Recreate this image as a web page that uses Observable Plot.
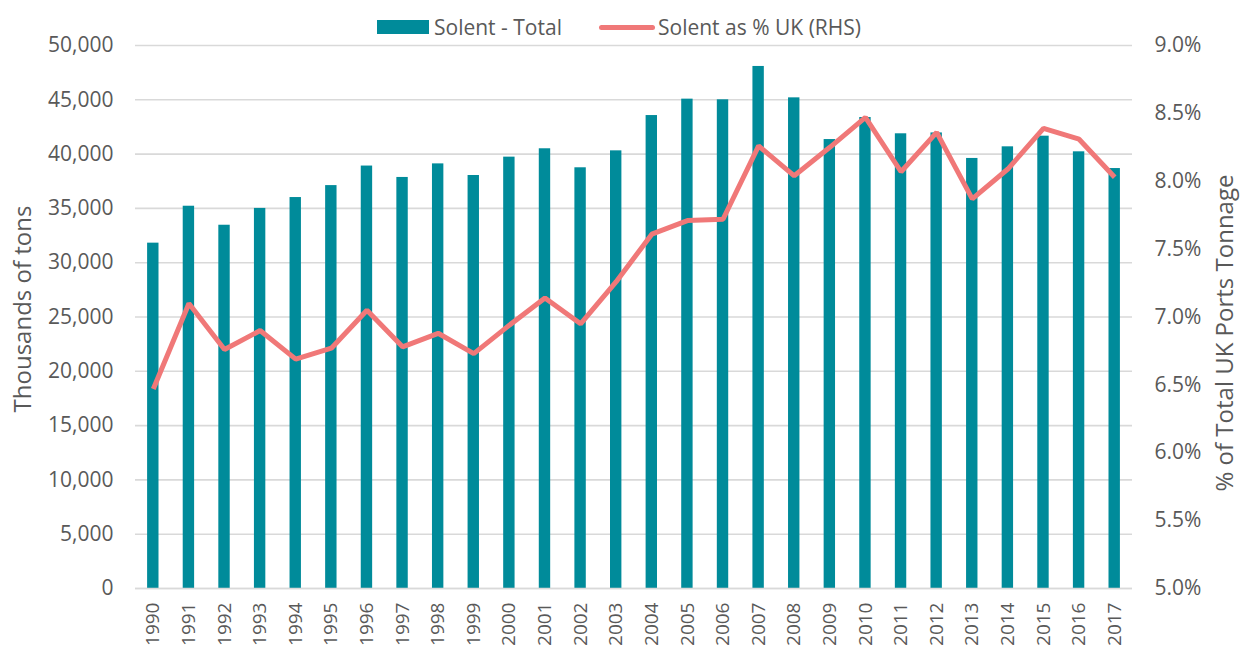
<!DOCTYPE html>
<html>
<head>
<meta charset="utf-8">
<script src="https://cdn.jsdelivr.net/npm/d3@7"></script>
<script src="https://cdn.jsdelivr.net/npm/@observablehq/plot@0.6"></script>
<style>
  body { margin: 0; background: #fff; font-family: "Open Sans", sans-serif; color: #595959; }
  #legend { position: relative; height: 38px; width: 1240px; }
  .item { position: absolute; top: 14px; font-size: 21px; line-height: 26px; display: flex; align-items: center; }
  .sw-bar { display: inline-block; width: 52px; height: 14px; background: #008b9a; margin-right: 5px; }
  .sw-line { display: inline-block; width: 56px; height: 5px; background: #f07878; border-radius: 3px; margin-right: 3px; }
</style>
</head>
<body>
<div id="legend">
  <div class="item" style="left:377px"><span class="sw-bar"></span>Solent - Total</div>
  <div class="item" style="left:599px"><span class="sw-line"></span>Solent as % UK (RHS)</div>
</div>
<div id="chart"></div>
<script>
const years = ["1990","1991","1992","1993","1994","1995","1996","1997","1998","1999","2000","2001","2002","2003","2004","2005","2006","2007","2008","2009","2010","2011","2012","2013","2014","2015","2016","2017"];
const solentTotal = [31800,35200,33450,35000,36000,37100,38900,37850,39100,38030,39720,40490,38740,40300,43550,45060,45000,48070,45180,41340,43370,41870,41950,39600,40670,41650,40210,38670];
const solentPctUK = [6.47,7.10,6.76,6.90,6.69,6.77,7.05,6.78,6.88,6.73,6.94,7.14,6.95,7.26,7.61,7.71,7.72,8.26,8.04,8.25,8.47,8.07,8.36,7.87,8.09,8.39,8.31,8.03];
const leftTicks = [0,5000,10000,15000,20000,25000,30000,35000,40000,45000,50000];
const rightTicks = [5.0,5.5,6.0,6.5,7.0,7.5,8.0,8.5,9.0];
const leftTitle = "Thousands of tons";
const rightTitle = "% of Total UK Ports Tonnage";

// map RHS percentage onto the left (thousands) scale: 5% -> 0, 9% -> 50,000
const pctToY = p => (p - 5) * 12500;

const data = years.map((y, i) => ({year: y, total: solentTotal[i], pct: solentPctUK[i]}));

const chart = Plot.plot({
  width: 1240,
  height: 615,
  marginTop: 7,
  marginBottom: 65,
  marginLeft: 135,
  marginRight: 108,
  style: {fontFamily: "Open Sans, sans-serif", fontSize: "21px", color: "#595959", background: "#fff", overflow: "visible"},
  x: {type: "band", domain: years, paddingInner: 0.68, paddingOuter: 0.34, round: false},
  y: {domain: [0, 50000]},
  marks: [
    Plot.gridY(leftTicks, {stroke: "#d9d9d9", strokeOpacity: 1, strokeWidth: 1.6}),
    Plot.barY(data, {x: "year", y: "total", fill: "#008b9a"}),
    Plot.line(data, {x: "year", y: d => pctToY(d.pct), stroke: "#f07878", strokeWidth: 5, strokeLinejoin: "miter", strokeLinecap: "butt"}),
    Plot.axisY(leftTicks, {anchor: "left", tickSize: 0, tickPadding: 22, tickFormat: d3.format(","), fontSize: 21, label: null}),
    Plot.axisY(rightTicks.map(pctToY), {anchor: "right", tickSize: 0, tickPadding: 22, fontSize: 21,
      tickFormat: (d, i) => rightTicks[i].toFixed(1) + "%", label: null}),
    Plot.axisX({tickSize: 0, tickPadding: 14, tickRotate: -90, fontSize: 19, label: null}),
    Plot.ruleY([0], {stroke: "#d9d9d9", strokeWidth: 1.6}),
    Plot.text([leftTitle], {frameAnchor: "left", textAnchor: "middle", lineAnchor: "middle", dx: -112, dy: -8, rotate: -90, fontSize: 24, fill: "#595959"}),
    Plot.text([rightTitle], {frameAnchor: "right", textAnchor: "middle", lineAnchor: "middle", dx: 93, dy: 16, rotate: -90, fontSize: 24, fill: "#595959"})
  ]
});
document.getElementById("chart").appendChild(chart);
</script>
</body>
</html>
